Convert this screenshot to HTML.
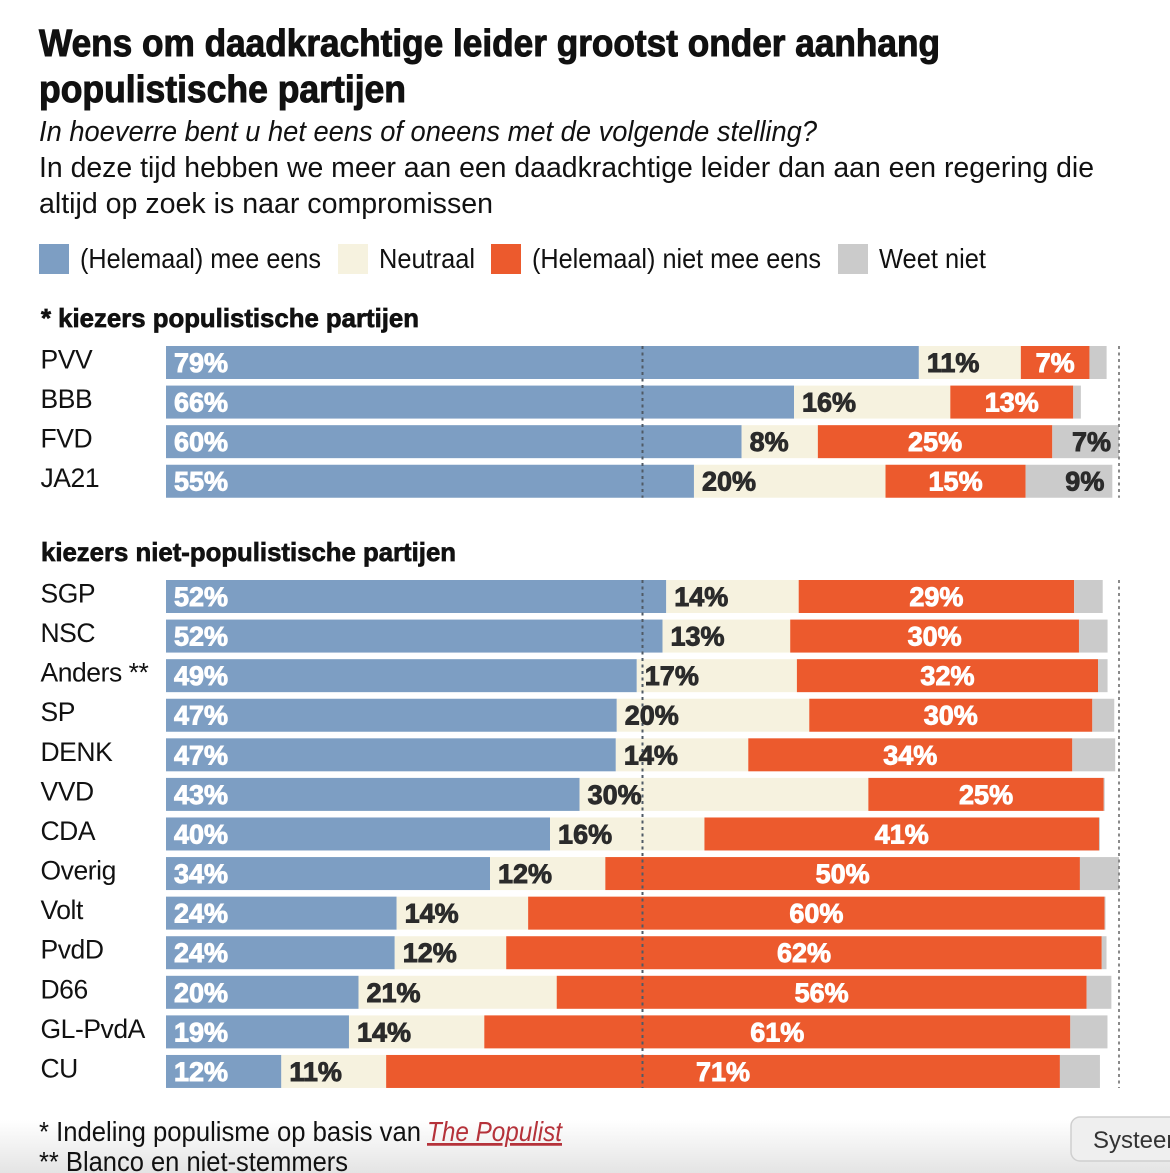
<!DOCTYPE html>
<html lang="nl">
<head>
<meta charset="utf-8">
<title>Wens om daadkrachtige leider</title>
<style>
html,body{margin:0;padding:0;background:#fff;}
body{width:1170px;height:1173px;overflow:hidden;}
svg{display:block;}
text{font-family:"Liberation Sans",sans-serif;fill:#111;}
</style>
</head>
<body>
<svg id="chart" width="1170" height="1173" viewBox="0 0 1170 1173" xmlns="http://www.w3.org/2000/svg">
  <defs>
    <linearGradient id="fade" x1="0" y1="0" x2="0" y2="1">
      <stop offset="0" stop-color="#ffffff"/>
      <stop offset="1" stop-color="#e4e4e4"/>
    </linearGradient>
  </defs>
  <rect x="0" y="1120" width="1170" height="53" fill="url(#fade)"/>

  <text x="39" y="56" font-size="38" font-weight="700" stroke="#111" stroke-width="1" textLength="901" lengthAdjust="spacingAndGlyphs">Wens om daadkrachtige leider grootst onder aanhang</text>
  <text x="39" y="102" font-size="38" font-weight="700" stroke="#111" stroke-width="1" textLength="367" lengthAdjust="spacingAndGlyphs">populistische partijen</text>
  <text x="39" y="141" font-size="29" font-style="italic" textLength="778" lengthAdjust="spacingAndGlyphs">In hoeverre bent u het eens of oneens met de volgende stelling?</text>
  <text x="39" y="177" font-size="29" textLength="1055" lengthAdjust="spacingAndGlyphs">In deze tijd hebben we meer aan een daadkrachtige leider dan aan een regering die</text>
  <text x="39" y="213" font-size="29" textLength="454" lengthAdjust="spacingAndGlyphs">altijd op zoek is naar compromissen</text>

  <g>
    <rect x="39" y="244" width="30" height="30" fill="#7d9ec3"/>
    <text x="80" y="268" font-size="27.5" textLength="241" lengthAdjust="spacingAndGlyphs">(Helemaal) mee eens</text>
    <rect x="338" y="244" width="30" height="30" fill="#f6f2df"/>
    <text x="379" y="268" font-size="27.5" textLength="96" lengthAdjust="spacingAndGlyphs">Neutraal</text>
    <rect x="491" y="244" width="30" height="30" fill="#ec5a2d"/>
    <text x="532" y="268" font-size="27.5" textLength="289" lengthAdjust="spacingAndGlyphs">(Helemaal) niet mee eens</text>
    <rect x="838" y="244" width="30" height="30" fill="#cbcbcb"/>
    <text x="879" y="268" font-size="27.5" textLength="107" lengthAdjust="spacingAndGlyphs">Weet niet</text>
  </g>

  <text x="41" y="327" font-size="26" font-weight="700" stroke="#111" stroke-width="0.7" textLength="378" lengthAdjust="spacingAndGlyphs">* kiezers populistische partijen</text>
  <text x="41" y="561" font-size="26" font-weight="700" stroke="#111" stroke-width="0.7" textLength="415" lengthAdjust="spacingAndGlyphs">kiezers niet-populistische partijen</text>

  <g id="marks"></g>

  <text x="39" y="1141" font-size="27.5" textLength="382" lengthAdjust="spacingAndGlyphs">* Indeling populisme op basis van</text>
  <text x="427" y="1141" font-size="27.5" font-style="italic" text-decoration="underline" style="fill:#b5323a" textLength="135" lengthAdjust="spacingAndGlyphs">The Populist</text>
  <text x="39" y="1171" font-size="27.5" textLength="309" lengthAdjust="spacingAndGlyphs">** Blanco en niet-stemmers</text>

  <g>
    <rect x="1071" y="1117" width="120" height="44" rx="9" fill="#efefef" stroke="#cfcfcf" stroke-width="1.5"/>
    <text x="1093" y="1148" font-size="24" style="fill:#333">Systeem</text>
  </g>
</svg>

<script>
const partiesPopulist = ['PVV', 'BBB', 'FVD', 'JA21'];
const agreePopulist = [79.0, 65.9, 60.4, 55.4];
const neutralPopulist = [10.7, 16.4, 8.0, 20.1];
const disagreePopulist = [7.2, 12.9, 24.6, 14.7];
const unknownPopulist = [1.8, 0.8, 7.0, 9.1];

const partiesOther = ['SGP', 'NSC', 'Anders **', 'SP', 'DENK', 'VVD', 'CDA', 'Overig', 'Volt', 'PvdD', 'D66', 'GL-PvdA', 'CU'];
const agreeOther = [52.49, 52.1, 49.4, 47.3, 47.2, 43.4, 40.3, 34.0, 24.2, 24.0, 20.2, 19.2, 12.1];
const neutralOther = [13.9, 13.4, 16.8, 20.2, 13.9, 30.3, 16.2, 12.1, 13.8, 11.7, 20.8, 14.2, 11.0];
const disagreeOther = [28.9, 30.3, 31.6, 29.7, 34.0, 24.7, 41.4, 49.8, 60.49, 62.49, 55.6, 61.49, 70.7];
const unknownOther = [3.0, 3.0, 1.0, 2.3, 4.5, 0.1, 0.1, 4.1, 0.1, 0.5, 2.6, 3.9, 4.2];

const referenceLines = [50, 100];

const NS = 'http://www.w3.org/2000/svg';
const marks = document.getElementById('marks');
const xZero = 166;
const pxPerPercent = 9.53;
const rowStep = 39.58;
const barHeight = 33;
const colors = {agree: '#7d9ec3', neutral: '#f6f2df', disagree: '#ec5a2d', unknown: '#cbcbcb'};
const minUnknownLabel = 6;

function xScale(v) { return xZero + v * pxPerPercent; }
function yScale(top, i) { return top + i * rowStep; }

function makeSvg(tag, attrs) {
  const el = document.createElementNS(NS, tag);
  Object.keys(attrs).forEach(function (k) { el.setAttribute(k, attrs[k]); });
  return el;
}

function drawSegment(parent, kind, party, start, value, y) {
  const rect = makeSvg('rect', {x: xScale(start), y: y, width: value * pxPerPercent, height: barHeight, fill: colors[kind]});
  
  
  parent.appendChild(rect);
}

function drawValue(parent, kind, party, start, value, y) {
  const end = start + value;
  let x = xScale(start) + 8;
  let anchor = 'start';
  let fill = '#2b2b2b';
  if (kind === 'agree') { fill = '#ffffff'; }
  if (kind === 'disagree') { x = xScale(start + value / 2); anchor = 'middle'; fill = '#ffffff'; }
  if (kind === 'unknown') { x = xScale(end) - 8; anchor = 'end'; }
  const t = makeSvg('text', {x: x, y: y + 26, 'font-size': 27, 'font-weight': 700, 'text-anchor': anchor, stroke: fill, 'stroke-width': 0.9});
  t.style.fill = fill;
  t.textContent = Math.round(value) + '%';
  
  
  parent.appendChild(t);
}

function drawGroup(top, parties, agree, neutral, disagree, unknown) {
  const labels = [];
  parties.forEach(function (party, i) {
    const y = yScale(top, i);
    const row = makeSvg('g', {});
    
    
    const name = makeSvg('text', {x: 40.5, y: y + 22.5, 'font-size': 26.5, 'letter-spacing': -0.45});
    name.textContent = party;
    
    
    row.appendChild(name);
    const parts = [['agree', agree[i]], ['neutral', neutral[i]], ['disagree', disagree[i]], ['unknown', unknown[i]]];
    let start = 0;
    parts.forEach(function (p) {
      drawSegment(row, p[0], party, start, p[1], y);
      if (p[0] !== 'unknown' || p[1] >= minUnknownLabel) {
        labels.push([p[0], party, start, p[1], y]);
      }
      start += p[1];
    });
    marks.appendChild(row);
  });
  referenceLines.forEach(function (v) {
    const line = makeSvg('line', {
      x1: xScale(v), x2: xScale(v), y1: top, y2: yScale(top, parties.length - 1) + barHeight,
      stroke: v === 50 ? '#4f5a66' : '#8a8a8a', 'stroke-width': 2, 'stroke-dasharray': '3 3.5'
    });
    
    
    marks.appendChild(line);
  });
  labels.forEach(function (l) { drawValue(marks, l[0], l[1], l[2], l[3], l[4]); });
}

drawGroup(346, partiesPopulist, agreePopulist, neutralPopulist, disagreePopulist, unknownPopulist);
drawGroup(580, partiesOther, agreeOther, neutralOther, disagreeOther, unknownOther);
</script>
</body>
</html>
